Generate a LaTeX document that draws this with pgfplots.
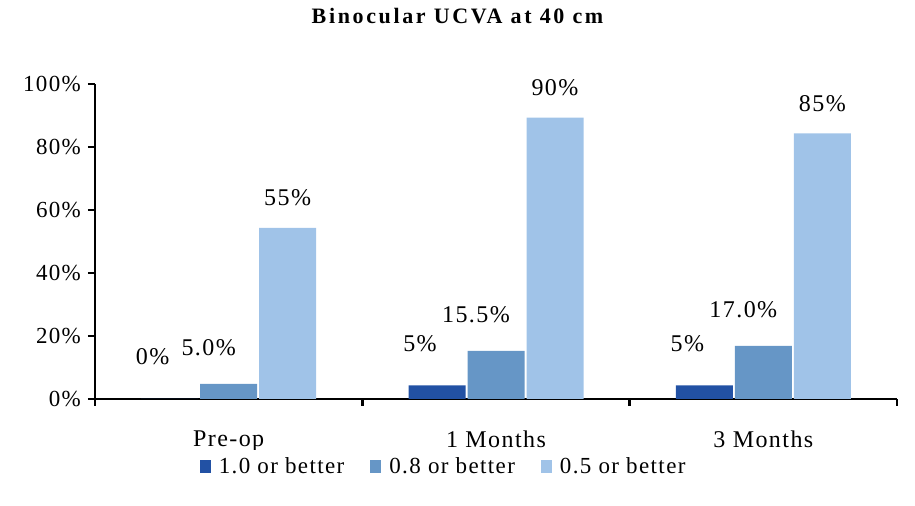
\documentclass[border=0pt]{standalone}
\usepackage{fontspec}
\setmainfont{Liberation Serif}
\usepackage{pgfplots}
\pgfplotsset{compat=1.18}

\definecolor{cOne}{HTML}{2251A4}
\definecolor{cTwo}{HTML}{6696C6}
\definecolor{cThree}{HTML}{A0C3E8}

\newfontfamily\wideserif[LetterSpace=6]{Liberation Serif}
\newfontfamily\titleserif[LetterSpace=12]{Liberation Serif}

\begin{document}
\begin{tikzpicture}
% page = 915x506 px at 0.5pt per px
\path[use as bounding box] (-47.5pt,-53.5pt) rectangle (410pt,199.5pt);
\node[font=\titleserif\fontsize{11}{13}\selectfont\bfseries] at (181.25pt,191.5pt) {Binocular UCVA at 40 cm};
\begin{axis}[
    at={(0,0)}, anchor=south west,
    scale only axis,
    width=401pt, height=157.5pt,
    ybar=1pt, bar width=28.5pt,
    xmin=-0.5, xmax=2.5,
    ymin=0, ymax=100,
    axis lines*=left,
    axis line style={line width=1.4pt},
    xtick={-0.5,0.5,1.5,2.5},
    x tick label as interval,
    xticklabels={Pre-op, 1 Months, 3 Months},
    x tick style={line width=1.2pt, black},
    ytick={0,20,40,60,80,100},
    yticklabels={0\%,20\%,40\%,60\%,80\%,100\%},
    y tick style={line width=1.2pt, black},
    tick align=outside, major tick length=3.5pt,
    xticklabel style={font=\wideserif\fontsize{12}{14}\selectfont, yshift=-9pt},
    yticklabel style={font=\wideserif\fontsize{11.5}{13}\selectfont},
    point meta=explicit symbolic,
    nodes near coords,
    every node near coord/.append style={font=\wideserif\fontsize{12}{14}\selectfont, anchor=center},
    legend columns=-1,
    legend style={at={(0.436,-0.216)}, anchor=center, draw=none,
        font=\wideserif\fontsize{11.5}{13}\selectfont,
        /tikz/every odd column/.append style={column sep=2pt},
        /tikz/every even column/.append style={column sep=11pt}},
    legend image code/.code={\fill[#1] (0pt,-3pt) rectangle (5.5pt,3.5pt);},
    clip=false,
]
\addplot[draw=none, fill=cOne, every node near coord/.append style={xshift=-8.5pt, yshift=21pt}]
    coordinates {(0,0) [0\%] (1,4.3) [5\%] (2,4.3) [5\%]};
\addplot[draw=none, fill=cTwo, every node near coord/.append style={xshift=-10pt, yshift=18pt}]
    coordinates {(0,4.8) [5.0\%] (1,15.3) [15.5\%] (2,16.9) [17.0\%]};
\addplot[draw=none, fill=cThree, every node near coord/.append style={xshift=0pt, yshift=15pt}]
    coordinates {(0,54.3) [55\%] (1,89.3) [90\%] (2,84.3) [85\%]};
\legend{1.0 or better, 0.8 or better, 0.5 or better}
\end{axis}
\end{tikzpicture}
\end{document}
